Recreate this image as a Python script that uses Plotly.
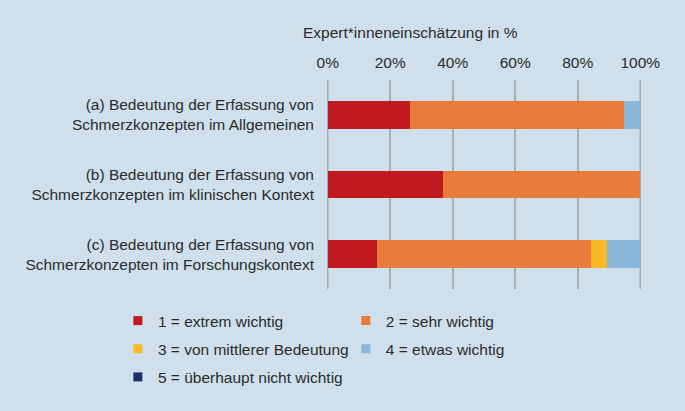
import plotly.graph_objects as go

categories = [
    "(a) Bedeutung der Erfassung von<br>Schmerzkonzepten im Allgemeinen",
    "(b) Bedeutung der Erfassung von<br>Schmerzkonzepten im klinischen Kontext",
    "(c) Bedeutung der Erfassung von<br>Schmerzkonzepten im Forschungskontext",
]
series_names = [
    "1 = extrem wichtig",
    "2 = sehr wichtig",
    "3 = von mittlerer Bedeutung",
    "4 = etwas wichtig",
    "5 = überhaupt nicht wichtig",
]
values_1 = [26.3, 36.8, 15.8]
values_2 = [68.4, 63.2, 68.4]
values_3 = [0.0, 0.0, 5.3]
values_4 = [5.3, 0.0, 10.5]
values_5 = [0.0, 0.0, 0.0]
series_values = [values_1, values_2, values_3, values_4, values_5]
colors = ["#c0191f", "#e97c3a", "#fbb928", "#8bb7dc", "#1b2f6b"]
legend_ids = ["legend", "legend2", "legend", "legend2", "legend"]
x_ticks = [0, 20, 40, 60, 80, 100]
axis_title = "Expert*inneneinschätzung in %"

BG = "#cfe0ec"
TXT = "#2b2b2b"
GRID = "#a9adb1"
FONT = "Liberation Sans, Arial, sans-serif"
FS = 15.5

fig = go.Figure()
for name, vals, col in zip(series_names, series_values, colors):
    fig.add_trace(go.Bar(
        y=categories, x=vals, name=name, orientation="h",
        marker=dict(color=col, line=dict(width=0)),
        width=0.4, showlegend=False,
        hovertemplate="%{x:.1f}%<extra>" + name + "</extra>",
    ))
# legend entries (small square swatches)
for name, col, lg in zip(series_names, colors, legend_ids):
    fig.add_trace(go.Scatter(
        x=[None], y=[None], mode="markers", name=name,
        marker=dict(symbol="square", size=9, color=col, line=dict(width=0)),
        legend=lg, legendgroup=name, showlegend=True, hoverinfo="skip",
    ))

# gridlines at the outer ticks (plotly omits grid at the range edges)
for t in (x_ticks[0], x_ticks[-1]):
    fig.add_shape(type="line", xref="x", yref="paper", x0=t, x1=t, y0=0, y1=1,
                  line=dict(color=GRID, width=1.5), layer="below")

leg_common = dict(
    xanchor="left", yanchor="top", orientation="v",
    traceorder="grouped", tracegroupgap=5, bgcolor="rgba(0,0,0,0)",
    font=dict(size=FS, color=TXT), itemwidth=30, borderwidth=0,
)
fig.update_layout(
    width=685, height=411,
    paper_bgcolor=BG, plot_bgcolor=BG,
    font=dict(family=FONT, size=FS, color=TXT),
    barmode="stack",
    margin=dict(l=327, r=44, t=80, b=122),
    legend=dict(x=-0.666, y=-0.072, **leg_common),
    legend2=dict(x=0.06, y=-0.072, **leg_common),
    showlegend=True,
)
fig.update_xaxes(
    side="top", range=[-0.25, 100.25], tickvals=x_ticks,
    ticktext=[f"{v}%" for v in x_ticks],
    showgrid=True, gridcolor=GRID, gridwidth=1.5,
    zeroline=False, showline=False, ticks="", ticklabelstandoff=8,
    tickfont=dict(size=FS, color=TXT), automargin=False,
    fixedrange=True,
)
fig.update_yaxes(
    autorange="reversed", showgrid=False, zeroline=False, showline=False,
    ticks="", ticklabelstandoff=12, tickfont=dict(size=FS, color=TXT),
    automargin=False, fixedrange=True,
)
fig.add_annotation(
    text=axis_title, xref="paper", yref="paper", x=-0.083, y=1.225,
    xanchor="left", yanchor="middle", showarrow=False,
    font=dict(size=FS, color=TXT),
)
fig.write_html(
    "out.html",
    config={"displayModeBar": False},
    post_script="document.body.style.margin='0';document.body.style.background='" + BG + "';",
)
